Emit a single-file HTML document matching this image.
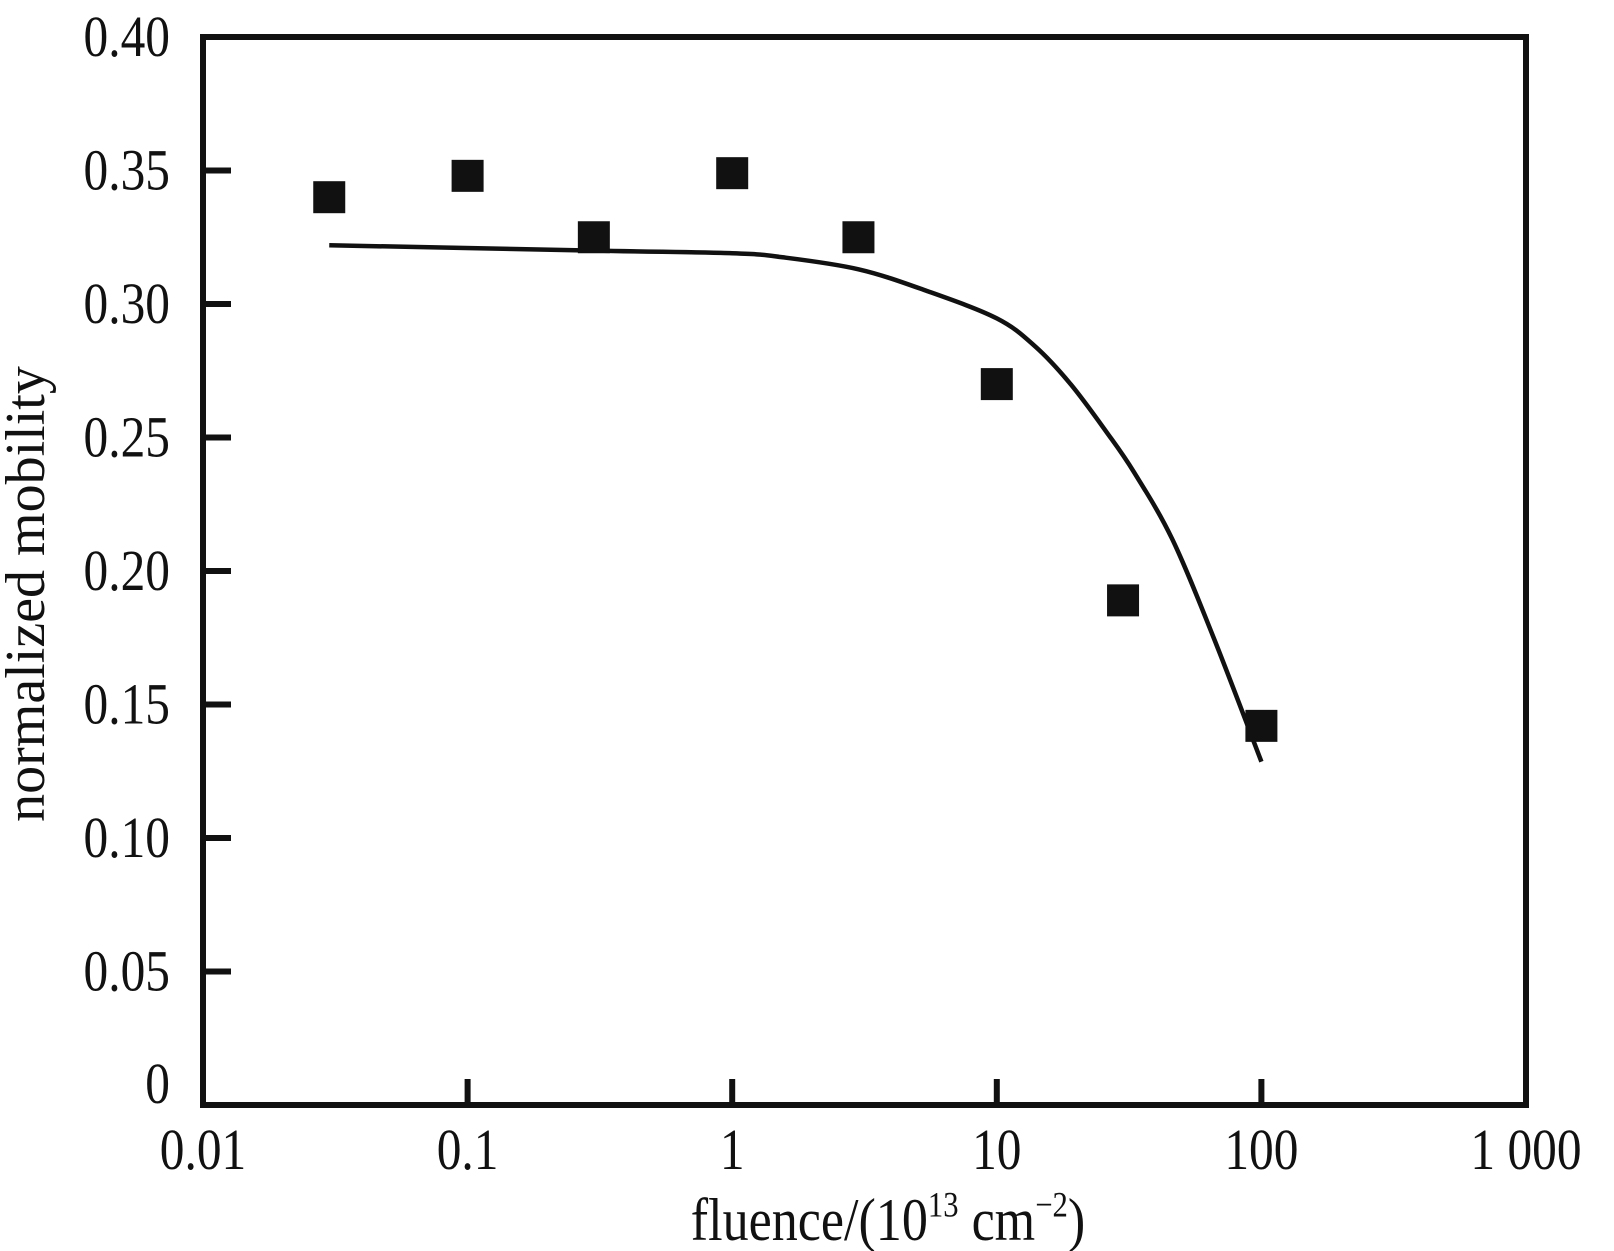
<!DOCTYPE html>
<html><head><meta charset="utf-8"><style>
html,body{margin:0;padding:0;background:#fff;}
svg{display:block;font-family:"Liberation Serif",serif;}
</style></head><body>
<svg id="chart" width="1614" height="1251" viewBox="0 0 1614 1251" xmlns="http://www.w3.org/2000/svg">
<g id="plot"></g>
<text x="0" y="0" transform="translate(44,594) rotate(-90) scale(1,1)" text-anchor="middle" font-size="56" fill="#111">normalized mobility</text>
<text x="0" y="0" transform="translate(888,1240) scale(0.93,1.08)" text-anchor="middle" font-size="56" fill="#111">fluence/(10<tspan font-size="33" dy="-22">13</tspan><tspan dy="22"> cm</tspan><tspan font-size="33" dy="-22">−2</tspan><tspan dy="22">)</tspan></text>
</svg>
<script>
const xTicks = [0.01, 0.1, 1, 10, 100, 1000];
const xTickLabels = ["0.01", "0.1", "1", "10", "100", "1 000"];
const yTicks = [0, 0.05, 0.10, 0.15, 0.20, 0.25, 0.30, 0.35, 0.40];
const yTickLabels = ["0", "0.05", "0.10", "0.15", "0.20", "0.25", "0.30", "0.35", "0.40"];
const pointX = [0.03, 0.1, 0.3, 1, 3, 10, 30, 100];
const pointY = [0.340, 0.348, 0.325, 0.349, 0.325, 0.270, 0.189, 0.142];
const fitX = [0.03, 0.3, 1, 1.55, 3, 5.4, 10, 14, 19, 26, 33, 46, 66, 100];
const fitY = [0.322, 0.320, 0.319, 0.3175, 0.313, 0.305, 0.2946, 0.284, 0.270, 0.252, 0.237, 0.212, 0.175, 0.1286];

const L=203, R=1526, T=37, B=1105;
const xs = v => L + (Math.log10(v) - Math.log10(0.01)) / 5 * (R - L);
const ys = v => B - v / 0.4 * (B - T);
const NS="http://www.w3.org/2000/svg";
const g=document.getElementById('plot');
function mk(tag, attrs, parent){const e=document.createElementNS(NS,tag);for(const k in attrs)e.setAttribute(k,attrs[k]);(parent||g).appendChild(e);return e;}

const frame=mk('rect',{x:L,y:T,width:R-L,height:B-T,fill:'none',stroke:'#111',"stroke-width":6});



xTicks.forEach((v,i)=>{
  const t=mk('line',{x1:xs(v),x2:xs(v),y1:B,y2:B-26,stroke:'#111',"stroke-width":6});
  
  
  const lb=mk('text',{transform:`translate(${xs(v)},${B+64}) scale(0.95,1.12)`,"text-anchor":"middle","font-size":52,fill:'#111'});
  lb.textContent=xTickLabels[i];
  
  
});
yTicks.forEach((v,i)=>{
  const t=mk('line',{x1:L,x2:L+28,y1:ys(v),y2:ys(v),stroke:'#111',"stroke-width":6});
  
  
  const lb=mk('text',{transform:`translate(170,${ys(v)+(i===0?-2:19)}) scale(0.95,1.12)`,"text-anchor":"end","font-size":52,fill:'#111'});
  lb.textContent=yTickLabels[i];
  
  
});

const pts=fitX.map((x,i)=>[xs(x),ys(fitY[i])]);
let d='M'+pts[0][0]+','+pts[0][1];
for(let i=0;i<pts.length-1;i++){
  const p0=pts[Math.max(0,i-1)],p1=pts[i],p2=pts[i+1],p3=pts[Math.min(pts.length-1,i+2)];
  const c1=[p1[0]+(p2[0]-p0[0])/6,p1[1]+(p2[1]-p0[1])/6];
  const c2=[p2[0]-(p3[0]-p1[0])/6,p2[1]-(p3[1]-p1[1])/6];
  d+=` C${c1[0]},${c1[1]} ${c2[0]},${c2[1]} ${p2[0]},${p2[1]}`;
}
const curve=mk('path',{d:d,fill:'none',stroke:'#111',"stroke-width":4.5});



pointX.forEach((x,i)=>{
  const s=mk('rect',{x:xs(x)-16,y:ys(pointY[i])-16,width:32,height:32,fill:'#111'});
  
  
});
</script>
</body></html>
